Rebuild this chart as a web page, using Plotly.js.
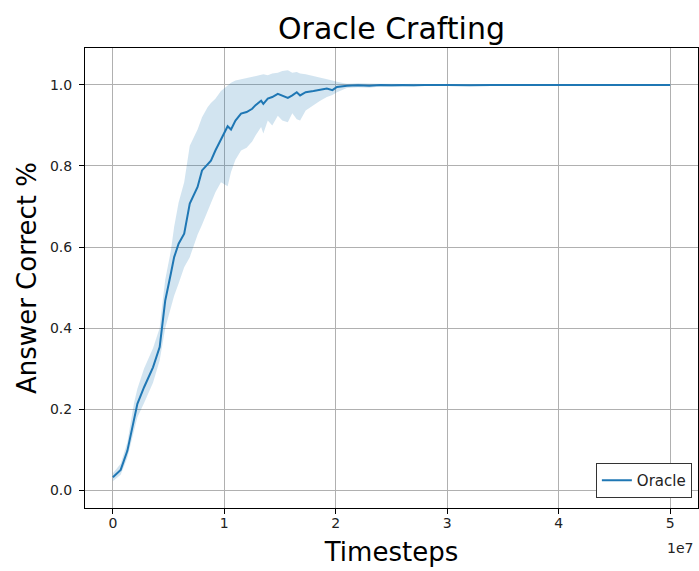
<!DOCTYPE html>
<html>
<head>
<meta charset="utf-8">
<script src="https://cdn.plot.ly/plotly-3.0.1.min.js"></script>
<style>
  html, body { margin: 0; padding: 0; background: #ffffff; }
  #chart { width: 699px; height: 571px; }
</style>
</head>
<body>
<div id="chart"></div>
<script>
// Training steps (in units of 1e7 timesteps)
const timesteps = [
  0.00, 0.07, 0.13, 0.19, 0.22, 0.28, 0.36, 0.42, 0.44, 0.47,
  0.52, 0.55, 0.59, 0.64, 0.69, 0.76, 0.80, 0.85, 0.88, 0.92,
  0.97, 1.03, 1.06, 1.10, 1.15, 1.20, 1.25, 1.28, 1.33, 1.35,
  1.39, 1.43, 1.48, 1.52, 1.57, 1.61, 1.65, 1.68, 1.73, 1.80,
  1.86, 1.92, 1.97, 2.01, 2.10, 2.20, 2.30, 2.40, 2.50, 2.60,
  2.70, 2.80, 3.00, 3.20, 3.40, 3.60, 3.80, 4.00, 4.20, 4.40,
  4.60, 4.80, 5.00
];

// Mean fraction of correct answers
const meanCorrect = [
  0.032, 0.050, 0.097, 0.180, 0.213, 0.254, 0.303, 0.353, 0.394, 0.468,
  0.534, 0.575, 0.608, 0.633, 0.707, 0.748, 0.789, 0.805, 0.813, 0.838,
  0.867, 0.898, 0.890, 0.912, 0.929, 0.933, 0.941, 0.950, 0.961, 0.953,
  0.966, 0.970, 0.978, 0.974, 0.968, 0.974, 0.982, 0.974, 0.982, 0.985,
  0.988, 0.991, 0.987, 0.995, 0.998, 0.999, 0.998, 1.000, 0.999, 1.000,
  0.999, 1.000, 1.000, 0.999, 1.000, 1.000, 1.000, 1.000, 0.999, 1.000,
  1.000, 1.000, 1.000
];

// Lower edge of the spread band
const lowerCorrect = [
  0.022, 0.038, 0.080, 0.150, 0.180, 0.215, 0.265, 0.320, 0.355, 0.400,
  0.450, 0.480, 0.510, 0.550, 0.575, 0.630, 0.655, 0.690, 0.710, 0.735,
  0.760, 0.750, 0.785, 0.815, 0.838, 0.845, 0.860, 0.875, 0.896, 0.880,
  0.912, 0.900, 0.924, 0.912, 0.908, 0.930, 0.915, 0.912, 0.937, 0.950,
  0.961, 0.970, 0.975, 0.982, 0.992, 0.994, 0.993, 0.996, 0.995, 0.997,
  0.996, 0.998, 0.998, 0.998, 0.998, 0.998, 0.998, 0.998, 0.998, 0.998,
  0.998, 0.998, 0.998
];

// Upper edge of the spread band
const upperCorrect = [
  0.042, 0.065, 0.118, 0.215, 0.250, 0.300, 0.350, 0.400, 0.450, 0.520,
  0.590, 0.650, 0.710, 0.760, 0.850, 0.890, 0.920, 0.945, 0.955, 0.966,
  0.985, 0.998, 1.005, 1.011, 1.014, 1.018, 1.020, 1.022, 1.024, 1.026,
  1.024, 1.028, 1.030, 1.034, 1.036, 1.030, 1.032, 1.028, 1.026, 1.022,
  1.018, 1.014, 1.011, 1.008, 1.003, 1.004, 1.003, 1.003, 1.003, 1.002,
  1.003, 1.002, 1.002, 1.002, 1.002, 1.002, 1.002, 1.002, 1.002, 1.002,
  1.002, 1.002, 1.002
];

const seriesName = 'Oracle';
const xTickVals = [0, 1, 2, 3, 4, 5];
const yTickVals = [0.0, 0.2, 0.4, 0.6, 0.8, 1.0];

const SCALE = 1e7;
const xs = timesteps.map(v => v * SCALE);

const lineColor = '#1f77b4';
const bandColor = 'rgba(31,119,180,0.2)';
const fontFamily = 'DejaVu Sans, sans-serif';

const traces = [
  {
    x: xs, y: lowerCorrect, type: 'scatter', mode: 'lines',
    line: { width: 0, color: bandColor }, hoverinfo: 'skip',
    showlegend: false
  },
  {
    x: xs, y: upperCorrect, type: 'scatter', mode: 'lines',
    fill: 'tonexty', fillcolor: bandColor,
    line: { width: 0, color: bandColor }, hoverinfo: 'skip',
    showlegend: false
  },
  {
    x: xs, y: meanCorrect, type: 'scatter', mode: 'lines',
    name: seriesName,
    line: { color: lineColor, width: 2 }
  }
];

const layout = {
  width: 699, height: 571,
  paper_bgcolor: '#ffffff', plot_bgcolor: '#ffffff',
  font: { family: fontFamily, color: '#000000', size: 14 },
  margin: { l: 85, r: 1, t: 48, b: 63, pad: 0 },
  title: {
    text: 'Oracle Crafting',
    font: { family: fontFamily, size: 30, color: '#000000' },
    x: 0.5, xref: 'paper', xanchor: 'center',
    y: 1 - 28 / 571, yref: 'container', yanchor: 'middle'
  },
  xaxis: {
    range: [-0.25 * SCALE, 5.25 * SCALE],
    tickvals: xTickVals.map(v => v * SCALE),
    ticktext: xTickVals.map(v => String(v)),
    ticks: 'outside', ticklen: 5, tickwidth: 1, tickcolor: '#000000',
    ticklabelstandoff: -3,
    showgrid: true, gridcolor: '#b0b0b0', gridwidth: 1,
    zeroline: false,
    showline: true, linecolor: '#000000', linewidth: 1, mirror: true,
    tickfont: { family: fontFamily, size: 14, color: '#222222' },
    title: {
      text: 'Timesteps',
      font: { family: fontFamily, size: 26, color: '#000000' },
      standoff: 13
    },
    automargin: false
  },
  yaxis: {
    range: [-0.044, 1.091],
    tickvals: yTickVals,
    tickformat: '.1f',
    ticks: 'outside', ticklen: 5, tickwidth: 1, tickcolor: '#000000',
    ticklabelstandoff: 4,
    showgrid: true, gridcolor: '#b0b0b0', gridwidth: 1,
    zeroline: false,
    showline: true, linecolor: '#000000', linewidth: 1, mirror: true,
    tickfont: { family: fontFamily, size: 14, color: '#222222' },
    title: {
      text: 'Answer Correct %',
      font: { family: fontFamily, size: 26, color: '#000000' },
      standoff: 5
    },
    automargin: false
  },
  legend: {
    x: 0.99, xanchor: 'right', xref: 'paper',
    y: 0.022, yanchor: 'bottom', yref: 'paper',
    bgcolor: '#ffffff', bordercolor: '#333333', borderwidth: 1,
    font: { family: fontFamily, size: 15, color: '#222222' }
  },
  annotations: [
    {
      text: '1e7', xref: 'paper', yref: 'paper',
      x: 0.995, xanchor: 'right', y: -0.087, yanchor: 'middle',
      showarrow: false,
      font: { family: fontFamily, size: 14, color: '#222222' }
    }
  ],
  showlegend: true
};

Plotly.newPlot('chart', traces, layout, { displayModeBar: false, staticPlot: true });
</script>
</body>
</html>
